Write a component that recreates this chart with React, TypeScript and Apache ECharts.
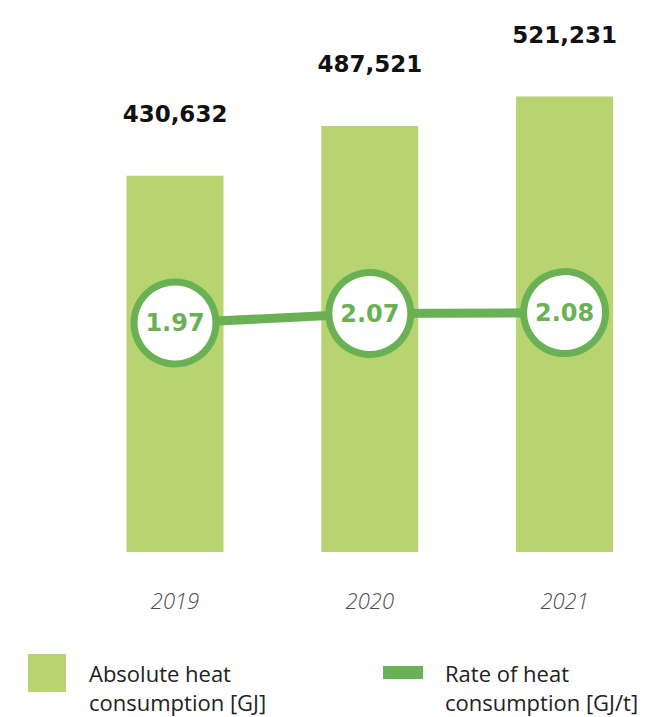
import React, { useEffect, useRef } from "react";
import * as echarts from "echarts";

const years = ["2019", "2020", "2021"];
const heatAbsolute = [430632, 487521, 521231];
const heatRate = [1.97, 2.07, 2.08];
const absName = "Absolute heat\nconsumption [GJ]";
const rateName = "Rate of heat\nconsumption [GJ/t]";

const BAR_COLOR = "#b8d471";
const LINE_COLOR = "#6ab155";

export default function App() {
  const ref = useRef<HTMLDivElement>(null);
  useEffect(() => {
    if (!ref.current) return;
    const chart = echarts.init(ref.current, null, { renderer: "svg" });
    const legendText = {
      fontFamily: "Open Sans",
      fontSize: 22,
      color: "#222",
      lineHeight: 29,
      padding: [0, 0, 0, 18],
    };
    chart.setOption({
      animation: false,
      grid: { left: 77.6, right: 0, top: 40, bottom: 165, containLabel: false },
      legend: [
        {
          left: 28,
          top: 629.5,
          padding: 0,
          itemWidth: 38,
          itemHeight: 38,
          selectedMode: false,
          data: [{ name: absName, icon: "rect" }],
          formatter: (n: string) => "\n" + n,
          textStyle: legendText,
        },
        {
          left: 383,
          top: 629,
          padding: 0,
          itemWidth: 38,
          itemHeight: 11,
          selectedMode: false,
          data: [{ name: rateName, icon: "rect", itemStyle: { color: LINE_COLOR } }],
          formatter: (n: string) => "\n" + n,
          textStyle: legendText,
        },
      ],
      xAxis: {
        type: "category",
        data: years,
        axisLine: { show: false },
        axisTick: { show: false },
        axisLabel: {
          margin: 35,
          fontFamily: "Open Sans",
          fontStyle: "italic",
          fontWeight: 300,
          fontSize: 22,
          lineHeight: 26,
          color: "#4d4d4d",
        },
      },
      yAxis: [
        {
          type: "value",
          min: 0,
          max: 586000,
          show: false,
          splitLine: { show: false },
        },
        {
          type: "value",
          min: -0.44,
          max: 4.95,
          show: false,
          splitLine: { show: false },
        },
      ],
      series: [
        {
          name: absName,
          type: "bar",
          data: heatAbsolute,
          barWidth: 97,
          yAxisIndex: 0,
          itemStyle: { color: BAR_COLOR },
          z: 1,
          label: {
            show: true,
            position: "top",
            distance: 49,
            fontFamily: "DejaVu Sans",
            fontWeight: "bold",
            fontSize: 23,
            lineHeight: 26,
            color: "#111",
            formatter: (p: any) => Number(p.value).toLocaleString("en-US"),
          },
        },
        {
          name: rateName,
          type: "line",
          data: heatRate,
          yAxisIndex: 1,
          z: 5,
          lineStyle: { color: LINE_COLOR, width: 9 },
          itemStyle: { color: "#ffffff", borderColor: LINE_COLOR, borderWidth: 7 },
          symbol: "circle",
          symbolSize: 82,
          showAllSymbol: true,
          label: {
            show: true,
            position: "inside",
            fontFamily: "DejaVu Sans",
            fontWeight: "bold",
            fontSize: 24,
            color: LINE_COLOR,
            formatter: (p: any) => Number(p.value).toFixed(2),
          },
        },
      ],
    });
    return () => chart.dispose();
  }, []);
  return (
    <div
      ref={ref}
      style={{ position: "fixed", left: 0, top: 0, width: 662, height: 717, background: "#fff" }}
    />
  );
}
